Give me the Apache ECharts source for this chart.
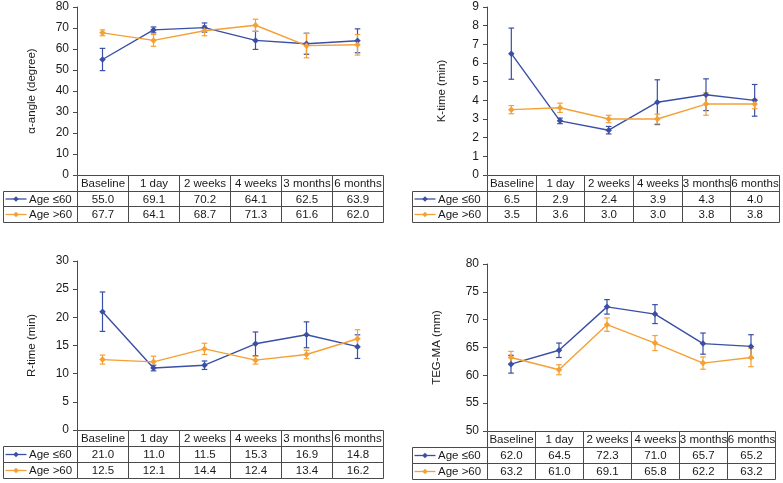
<!DOCTYPE html>
<html><head><meta charset="utf-8">
<script src="https://cdn.jsdelivr.net/npm/echarts@6/dist/echarts.min.js"></script>
<style>html,body{margin:0;padding:0;background:#fff}#c{width:783px;height:483px}</style>
</head><body><div id="c"></div>
<script>
// ---------- DATA ----------
const categories = ['Baseline', '1 day', '2 weeks', '4 weeks', '3 months', '6 months'];
const seriesNames = ['Age ≤60', 'Age >60'];

// α-angle (degree)
const alphaYoung = [55.0, 69.1, 70.2, 64.1, 62.5, 63.9];
const alphaOld = [67.7, 64.1, 68.7, 71.3, 61.6, 62.0];
const alphaYoungErr = [5.3, 1.4, 2.2, 4.3, 5.0, 5.7];
const alphaOldErr = [1.4, 2.8, 2.4, 2.9, 5.8, 4.9];
const alphaTicks = [0, 10, 20, 30, 40, 50, 60, 70, 80];

// K-time (min)
const kYoung = [6.5, 2.9, 2.4, 3.9, 4.3, 4.0];
const kOld = [3.5, 3.6, 3.0, 3.0, 3.8, 3.8];
const kYoungErr = [1.37, 0.15, 0.2, 1.2, 0.85, 0.85];
const kOldErr = [0.22, 0.25, 0.2, 0.26, 0.6, 0.25];
const kTicks = [0, 1, 2, 3, 4, 5, 6, 7, 8, 9];

// R-time (min)
const rYoung = [21.0, 11.0, 11.5, 15.3, 16.9, 14.8];
const rOld = [12.5, 12.1, 14.4, 12.4, 13.4, 16.2];
const rYoungErr = [3.5, 0.5, 0.75, 2.1, 2.3, 2.1];
const rOldErr = [0.8, 1.0, 1.0, 0.7, 0.75, 1.6];
const rTicks = [0, 5, 10, 15, 20, 25, 30];

// TEG-MA (mm)
const maYoung = [62.0, 64.5, 72.3, 71.0, 65.7, 65.2];
const maOld = [63.2, 61.0, 69.1, 65.8, 62.2, 63.2];
const maYoungErr = [1.6, 1.3, 1.3, 1.7, 1.9, 2.1];
const maOldErr = [1.1, 0.9, 1.2, 1.35, 1.1, 1.65];
const maTicks = [50, 55, 60, 65, 70, 75, 80];

// ---------- STYLE / LAYOUT ----------
const COLORS = ['#3a4fa6', '#f5a034'];
const FONT = '"Liberation Sans", Arial, sans-serif';
const TEXT = '#1a1a1a';
const BORDER = '#4a4a4a';

const panels = [
  { name: 'α-angle (degree)', young: alphaYoung, old: alphaOld, yErr: alphaYoungErr, oErr: alphaOldErr, ticks: alphaTicks,
    chart: { left: 77, top: 7, width: 306, height: 168 }, table: { left: 3, top: 175, height: 47 }, nameGap: 39 },
  { name: 'K-time (min)', young: kYoung, old: kOld, yErr: kYoungErr, oErr: kOldErr, ticks: kTicks,
    chart: { left: 487, top: 7, width: 292, height: 168 }, table: { left: 412, top: 175, height: 47 }, nameGap: 39 },
  { name: 'R-time (min)', young: rYoung, old: rOld, yErr: rYoungErr, oErr: rOldErr, ticks: rTicks,
    chart: { left: 77, top: 261, width: 306, height: 169 }, table: { left: 3, top: 430, height: 48 }, nameGap: 39 },
  { name: 'TEG-MA (mm)', young: maYoung, old: maOld, yErr: maYoungErr, oErr: maOldErr, ticks: maTicks,
    chart: { left: 487, top: 264, width: 288, height: 167 }, table: { left: 412, top: 431, height: 48 }, nameGap: 44 }
];

const grid = [], xAxis = [], yAxis = [], series = [];

function errRenderer(color) {
  return function (params, api) {
    const x = api.value(0), lo = api.value(1), hi = api.value(2);
    const pHi = api.coord([x, hi]), pLo = api.coord([x, lo]);
    const w = 2.8;
    const st = { stroke: color, lineWidth: 1.2, fill: null };
    return {
      type: 'group', children: [
        { type: 'line', shape: { x1: pLo[0], y1: pLo[1], x2: pHi[0], y2: pHi[1] }, style: st },
        { type: 'line', shape: { x1: pHi[0] - w, y1: pHi[1], x2: pHi[0] + w, y2: pHi[1] }, style: st },
        { type: 'line', shape: { x1: pLo[0] - w, y1: pLo[1], x2: pLo[0] + w, y2: pLo[1] }, style: st }
      ]
    };
  };
}

function tableRenderer(cells) {
  return function (params, api) {
    const c = cells[params.dataIndex];
    const a = api.coord([c.c0, c.r0]);
    const b = api.coord([c.c1, c.r1]);
    const x0 = Math.round(a[0]) + 0.5, y0 = Math.round(a[1]) + 0.5;
    const x1 = Math.round(b[0]) + 0.5, y1 = Math.round(b[1]) + 0.5;
    const children = [
      { type: 'rect', shape: { x: x0, y: y0, width: x1 - x0, height: y1 - y0 },
        style: { fill: null, stroke: BORDER, lineWidth: 1 } }
    ];
    const cy = (y0 + y1) / 2;
    if (c.legend !== undefined) {
      const col = COLORS[c.legend];
      const lx0 = x0 + 2, lx1 = x0 + 23, mx = (lx0 + lx1) / 2;
      children.push({ type: 'line', shape: { x1: lx0, y1: cy, x2: lx1, y2: cy }, style: { stroke: col, lineWidth: 1.3 } });
      children.push({ type: 'polygon', shape: { points: [[mx, cy - 2.8], [mx + 2.8, cy], [mx, cy + 2.8], [mx - 2.8, cy]] }, style: { fill: col } });
      children.push({ type: 'text', style: { text: c.text, x: x0 + 25.5, y: cy + 0.5, align: 'left', verticalAlign: 'middle',
        fontSize: 11.5, fontFamily: FONT, fill: TEXT } });
    } else {
      children.push({ type: 'text', style: { text: c.text, x: (x0 + x1) / 2, y: cy + 0.5, align: 'center', verticalAlign: 'middle',
        fontSize: 11.5, fontFamily: FONT, fill: TEXT } });
    }
    return { type: 'group', children };
  };
}

panels.forEach((p, i) => {
  const gChart = i * 2, gTable = i * 2 + 1;
  const right = p.chart.left + p.chart.width;
  const cellW = p.chart.width / categories.length;
  const leftColUnits = (p.chart.left - p.table.left) / cellW;

  grid.push({ left: p.chart.left, top: p.chart.top, width: p.chart.width, height: p.chart.height, containLabel: false });
  grid.push({ left: p.table.left, top: p.table.top, width: right - p.table.left, height: p.table.height, containLabel: false });

  xAxis.push({ type: 'category', gridIndex: gChart, data: categories, boundaryGap: true,
    axisLine: { show: false }, axisTick: { show: false }, axisLabel: { show: false }, splitLine: { show: false } });
  xAxis.push({ type: 'value', gridIndex: gTable, min: -leftColUnits, max: categories.length, show: false, splitLine: { show: false } });

  const tMin = p.ticks[0], tMax = p.ticks[p.ticks.length - 1], tInt = p.ticks[1] - p.ticks[0];
  yAxis.push({ type: 'value', gridIndex: gChart, min: tMin, max: tMax, interval: tInt,
    name: p.name, nameLocation: 'middle', nameGap: p.nameGap, nameRotate: 90,
    nameTextStyle: { fontSize: 11.5, fontFamily: FONT, color: TEXT },
    axisLine: { show: true, lineStyle: { color: BORDER, width: 1 } },
    axisTick: { show: true, length: 4, lineStyle: { color: BORDER } },
    axisLabel: { fontSize: 12, fontFamily: FONT, color: TEXT, margin: 8 },
    splitLine: { show: false } });
  yAxis.push({ type: 'value', gridIndex: gTable, min: 0, max: 3, inverse: true, show: false, splitLine: { show: false } });

  const means = [p.young, p.old];
  const errs = [p.yErr, p.oErr];

  [0, 1].forEach(s => {
    series.push({
      type: 'custom', xAxisIndex: gChart, yAxisIndex: gChart, z: 2, silent: true,
      renderItem: errRenderer(COLORS[s]),
      data: means[s].map((v, k) => [k, v - errs[s][k], v + errs[s][k]])
    });
  });
  [0, 1].forEach(s => {
    series.push({
      type: 'line', name: seriesNames[s], xAxisIndex: gChart, yAxisIndex: gChart, z: 3, silent: true,
      data: means[s], symbol: 'diamond', symbolSize: 6.5, showSymbol: true,
      itemStyle: { color: COLORS[s] }, lineStyle: { color: COLORS[s], width: 1.4 }
    });
  });

  const cells = [];
  categories.forEach((c, k) => cells.push({ c0: k, c1: k + 1, r0: 0, r1: 1, text: c }));
  [0, 1].forEach(s => {
    cells.push({ c0: -leftColUnits, c1: 0, r0: s + 1, r1: s + 2, text: seriesNames[s], legend: s });
    means[s].forEach((v, k) => cells.push({ c0: k, c1: k + 1, r0: s + 1, r1: s + 2, text: v.toFixed(1) }));
  });
  series.push({
    type: 'custom', xAxisIndex: gTable, yAxisIndex: gTable, z: 1, silent: true,
    renderItem: tableRenderer(cells),
    data: cells.map(c => [(c.c0 + c.c1) / 2, (c.r0 + c.r1) / 2])
  });
});

const chart = echarts.init(document.getElementById('c'), null, { renderer: 'canvas' });
chart.setOption({
  animation: false,
  backgroundColor: '#fff',
  textStyle: { fontFamily: FONT },
  grid, xAxis, yAxis, series
});
</script>
</body></html>
